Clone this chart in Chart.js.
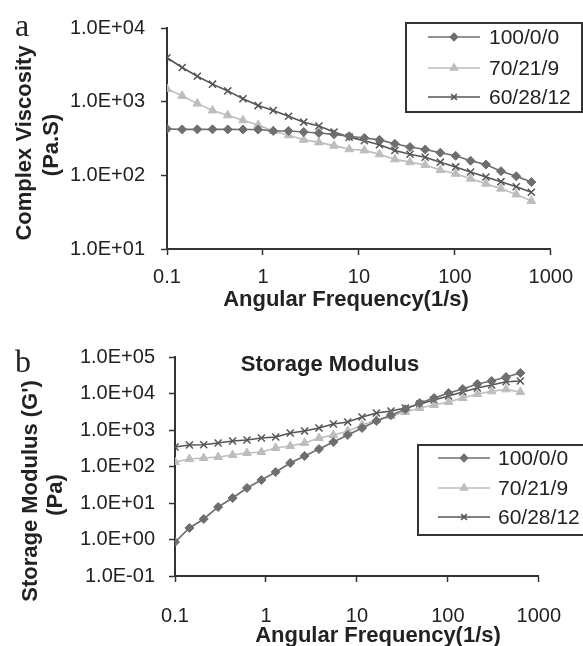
<!DOCTYPE html>
<html>
<head>
<meta charset="utf-8">
<script src="https://cdn.jsdelivr.net/npm/chart.js@4.4.0/dist/chart.umd.min.js"></script>
<style>
  html, body { margin: 0; padding: 0; background: #fff; }
  #wrap { position: relative; width: 583px; height: 646px; overflow: hidden; background: #fff; }
  .panel { position: absolute; left: 0; width: 583px; }
  #boxA { top: 0; height: 330px; }
  #boxB { top: 330px; height: 316px; }
</style>
</head>
<body>
<div id="wrap">
  <div class="panel" id="boxA"><canvas id="chartA"></canvas></div>
  <div class="panel" id="boxB"><canvas id="chartB"></canvas></div>
</div>
<script>
// angular frequency (1/s), same sweep for both panels
const freq = [0.1, 0.144, 0.207, 0.298, 0.43, 0.619, 0.891, 1.28, 1.85, 2.66, 3.83, 5.51, 7.93,
              11.4, 16.4, 23.7, 34.1, 49.1, 70.6, 102, 146, 211, 303, 437, 628];

const seriesNames = ['100/0/0', '70/21/9', '60/28/12'];

// (a) complex viscosity, Pa.S
const visc100 = [426, 420, 421, 421, 420, 419, 418, 401, 400, 388, 376, 360, 340,
                 322, 303, 268, 242, 224, 203, 184, 158, 140, 114, 97, 81];
const visc70  = [1486, 1200, 941, 760, 653, 560, 481, 401, 350, 304, 280, 253, 226,
                 218, 193, 165, 151, 138, 118, 105, 90, 77, 66, 55, 45];
const visc60  = [3945, 2910, 2210, 1730, 1400, 1096, 885, 760, 633, 527, 467, 388, 330,
                 295, 261, 218, 193, 176, 151, 130, 111, 95, 82, 70, 59];

// (b) storage modulus G', Pa
const g100 = [0.85, 2.07, 3.65, 7.77, 13.7, 25.8, 42.7, 70.7, 125, 194, 301, 469, 730,
              1135, 1770, 2550, 3700, 5490, 7530, 10300, 13300, 18200, 22000, 28300, 36500];
const g70  = [133, 160, 171, 182, 206, 234, 249, 321, 364, 440, 604, 730, 930,
              1370, 1880, 2420, 3110, 4010, 4840, 5850, 7530, 9690, 11500, 13000, 11000];
const g60  = [342, 388, 395, 440, 500, 532, 604, 643, 827, 939, 1135, 1460, 1656,
              2270, 2920, 3320, 4010, 5160, 6640, 8550, 11000, 14200, 17100, 21000, 22000];

// axis ticks
const xTicks  = [0.1, 1, 10, 100, 1000];
const xLabels = ['0.1', '1', '10', '100', '1000'];
const yTicksA  = [10, 100, 1000, 10000];
const yLabelsA = ['1.0E+01', '1.0E+02', '1.0E+03', '1.0E+04'];
const yTicksB  = [0.1, 1, 10, 100, 1000, 10000, 100000];
const yLabelsB = ['1.0E-01', '1.0E+00', '1.0E+01', '1.0E+02', '1.0E+03', '1.0E+04', '1.0E+05'];

const SANS  = '"Liberation Sans", Arial, sans-serif';
const SERIF = '"Liberation Serif", "Times New Roman", serif';
const AXIS  = '#333';

Chart.defaults.font.family = SANS;
Chart.defaults.color = '#222';

const styles = [
  { color: '#6e6e6e', pointStyle: 'rectRot',  radius: 4.5 },
  { color: '#bdbdbd', pointStyle: 'triangle', radius: 5 },
  { color: '#555555', pointStyle: 'crossRot', radius: 5 },
];

function makeDatasets(list) {
  return list.map((vals, i) => ({
    label: seriesNames[i],
    data: freq.map((f, k) => ({ x: f, y: vals[k] })),
    borderColor: styles[i].color,
    backgroundColor: styles[i].color,
    pointStyle: styles[i].pointStyle,
    pointRadius: styles[i].radius,
    pointBorderWidth: i === 2 ? 1.5 : 1,
    borderWidth: 1.6,
    tension: 0,
  }));
}

// free text: panel letters, axis titles, inner title
const textPlugin = {
  id: 'texts',
  afterDraw(chart, args, opts) {
    const ctx = chart.ctx;
    (opts.items || []).forEach(t => {
      ctx.save();
      ctx.fillStyle = t.color || '#222';
      ctx.font = t.font;
      ctx.textAlign = t.align || 'center';
      ctx.textBaseline = t.baseline || 'middle';
      ctx.translate(t.x, t.y);
      if (t.rot) ctx.rotate(t.rot);
      ctx.fillText(t.text, 0, 0);
      ctx.restore();
    });
  }
};

// boxed legend placed inside the plot like the original
const legendPlugin = {
  id: 'boxLegend',
  afterDraw(chart, args, o) {
    if (!o.box) return;
    const ctx = chart.ctx;
    ctx.save();
    ctx.fillStyle = '#fff';
    ctx.fillRect(o.box.x, o.box.y, o.box.w, o.box.h);
    ctx.strokeStyle = AXIS;
    ctx.lineWidth = 2;
    ctx.strokeRect(o.box.x, o.box.y, o.box.w, o.box.h);
    chart.data.datasets.forEach((ds, i) => {
      const y = o.rows[i];
      ctx.strokeStyle = ds.borderColor;
      ctx.fillStyle = ds.backgroundColor;
      ctx.lineWidth = 1.6;
      ctx.beginPath();
      ctx.moveTo(o.x1, y);
      ctx.lineTo(o.x2, y);
      ctx.stroke();
      Chart.helpers.drawPoint(ctx, {
        pointStyle: ds.pointStyle, radius: ds.pointRadius - 1, rotation: 0, borderWidth: 1
      }, (o.x1 + o.x2) / 2, y);
      ctx.fillStyle = '#222';
      ctx.font = '21px ' + SANS;
      ctx.textAlign = 'left';
      ctx.textBaseline = 'middle';
      ctx.fillText(ds.label, o.tx, y + 1);
    });
    ctx.restore();
  }
};

function logAxis(min, max, ticks, labels, extra) {
  return Object.assign({
    type: 'logarithmic',
    min: min,
    max: max,
    afterBuildTicks: (s) => { s.ticks = ticks.map(v => ({ value: v, major: true })); },
    ticks: {
      autoSkip: false,
      maxRotation: 0,
      font: { size: 20 },
      color: '#222',
      callback: (v, idx) => labels[idx],
    },
    grid: {
      drawOnChartArea: false,
      drawTicks: true,
      tickLength: 6,
      tickWidth: 1.5,
      tickColor: AXIS,
    },
    border: { color: AXIS, width: 2 },
  }, extra);
}

function makeChart(id, datasets, cfg) {
  return new Chart(document.getElementById(id), {
    type: 'line',
    data: { datasets: datasets },
    plugins: [textPlugin, legendPlugin],
    options: {
      responsive: true,
      maintainAspectRatio: false,
      animation: false,
      layout: { padding: cfg.padding },
      plugins: {
        legend: { display: false },
        tooltip: { enabled: false },
        texts: { items: cfg.texts },
        boxLegend: cfg.legend,
      },
      scales: {
        x: logAxis(0.1, 1000, xTicks, xLabels, {
          position: 'bottom',
          afterFit: (s) => { s.height = cfg.xHeight; },
        }),
        y: logAxis(cfg.yMin, cfg.yMax, cfg.yTicks, cfg.yLabels, {
          position: 'left',
          afterFit: (s) => { s.width = cfg.yWidth; },
        }),
      },
    },
  });
}

// tick label paddings differ a little between panels
function setPads(chart, xPad, yPad) {
  chart.options.scales.x.ticks.padding = xPad;
  chart.options.scales.y.ticks.padding = yPad;
  chart.update();
}

const chartA = makeChart('chartA', makeDatasets([visc100, visc70, visc60]), {
  padding: { left: 0, top: 22, right: 32, bottom: 0 },
  xHeight: 81, yWidth: 167,
  yMin: 10, yMax: 10000, yTicks: yTicksA, yLabels: yLabelsA,
  texts: [
    { text: 'a', x: 15, y: 36, font: '32px ' + SERIF, align: 'left', baseline: 'alphabetic' },
    { text: 'Complex Viscosity', x: 25, y: 143, rot: -Math.PI / 2, font: 'bold 22px ' + SANS },
    { text: '(Pa.S)', x: 52, y: 145, rot: -Math.PI / 2, font: 'bold 22px ' + SANS },
    { text: 'Angular Frequency(1/s)', x: 346, y: 300, font: 'bold 22px ' + SANS },
  ],
  legend: { box: { x: 406, y: 23, w: 176, h: 89 }, rows: [37, 68, 97], x1: 428, x2: 480, tx: 489 },
});

const chartB = makeChart('chartB', makeDatasets([g100, g70, g60]), {
  padding: { left: 0, top: 27, right: 27, bottom: 0 },
  xHeight: 70, yWidth: 175,
  yMin: 0.1, yMax: 100000, yTicks: yTicksB, yLabels: yLabelsB,
  texts: [
    { text: 'b', x: 15, y: 42, font: '32px ' + SERIF, align: 'left', baseline: 'alphabetic' },
    { text: 'Storage Modulus', x: 330, y: 35, font: 'bold 22px ' + SANS },
    { text: "Storage Modulus (G')", x: 31, y: 161, rot: -Math.PI / 2, font: 'bold 22px ' + SANS },
    { text: '(Pa)', x: 56, y: 165, rot: -Math.PI / 2, font: 'bold 22px ' + SANS },
    { text: 'Angular Frequency(1/s)', x: 378, y: 306, font: 'bold 22px ' + SANS },
  ],
  legend: { box: { x: 418, y: 115, w: 170, h: 90 }, rows: [128, 158, 187], x1: 438, x2: 490, tx: 498 },
});

setPads(chartA, 10, 16);
setPads(chartB, 22, 14);
</script>
</body>
</html>
